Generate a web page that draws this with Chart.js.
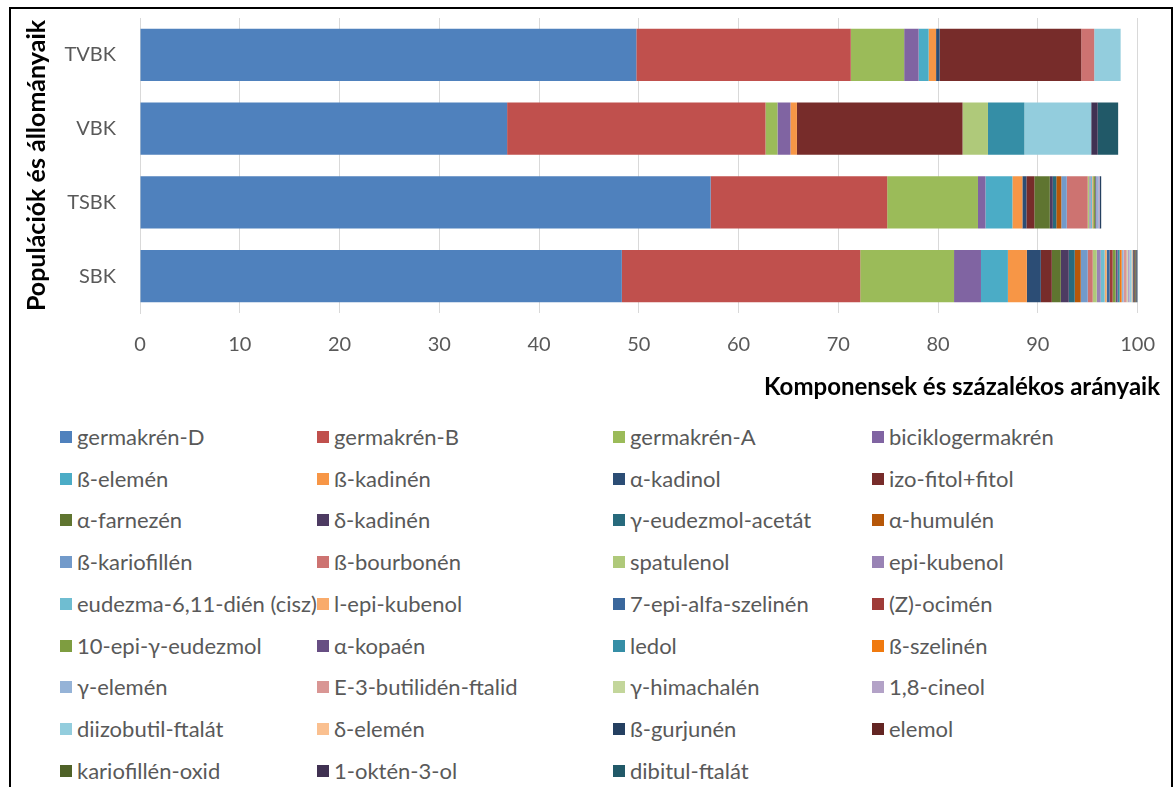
<!DOCTYPE html>
<html>
<head>
<meta charset="utf-8">
<script src="https://cdn.jsdelivr.net/npm/chart.js@4.4.1/dist/chart.umd.min.js"></script>
<style>
  body { margin: 0; background: #fff; font-family: Lato, sans-serif; }
  #frame { position: absolute; left: 9px; top: 7px; width: 1160px; height: 800px; border: 2px solid #000; }
  #chart { position: absolute; left: 0; top: 0; }
  .box { position: absolute; width: 12px; height: 12px; }
  .lbl { position: absolute; font-size: 22px; line-height: 26px; color: #595959; white-space: nowrap; }
</style>
</head>
<body>
<div id="frame"></div>
<canvas id="chart" width="1175" height="410"></canvas>
<div id="legend"></div>
<script>
// populations, top to bottom
const populations = ["TVBK", "VBK", "TSBK", "SBK"];

const components = [
  "germakrén-D", "germakrén-B", "germakrén-A", "biciklogermakrén",
  "ß-elemén", "ß-kadinén", "α-kadinol", "izo-fitol+fitol",
  "α-farnezén", "δ-kadinén", "γ-eudezmol-acetát", "α-humulén",
  "ß-kariofillén", "ß-bourbonén", "spatulenol", "epi-kubenol",
  "eudezma-6,11-dién (cisz)", "l-epi-kubenol", "7-epi-alfa-szelinén", "(Z)-ocimén",
  "10-epi-γ-eudezmol", "α-kopaén", "ledol", "ß-szelinén",
  "γ-elemén", "E-3-butilidén-ftalid", "γ-himachalén", "1,8-cineol",
  "diizobutil-ftalát", "δ-elemén", "ß-gurjunén", "elemol",
  "kariofillén-oxid", "1-oktén-3-ol", "dibitul-ftalát"
];

const colors = [
  "#4F81BD", "#C0504D", "#9BBB59", "#8064A2",
  "#4BACC6", "#F79646", "#2C4D75", "#772C2A",
  "#5F7530", "#4D3B62", "#276A7C", "#B65708",
  "#729ACA", "#CD7371", "#AFC97A", "#9983B5",
  "#6FBDD1", "#F9AB6B", "#3A679C", "#9F3B38",
  "#7E9D40", "#674E83", "#358EA6", "#F07A0F",
  "#95B3D7", "#D99694", "#C3D69B", "#B3A2C7",
  "#93CDDD", "#FAC090", "#254061", "#632523",
  "#4F6228", "#403152", "#215968"
];

// percentage of each component, same order as components
const tvbk = [49.75, 21.5, 5.35, 1.45, 1.0, 0.75, 0.35, 14.2,
  0, 0, 0, 0, 0, 1.3, 0, 0, 0, 0, 0, 0, 0, 0, 0, 0,
  0, 0, 0, 0, 2.65, 0, 0, 0, 0, 0, 0];
const vbk = [36.8, 25.9, 1.2, 1.3, 0, 0.65, 0, 16.6,
  0, 0, 0, 0, 0, 0, 2.55, 0, 0, 0, 0, 0, 0, 0, 3.65, 0,
  0, 0, 0, 0, 6.7, 0, 0, 0, 0, 0.65, 2.05];
const tsbk = [57.2, 17.7, 9.1, 0.75, 2.7, 1.0, 0.4, 0.8,
  1.55, 0.3, 0.35, 0.5, 0.55, 2.1, 0.15, 0.15, 0.15, 0.1, 0, 0, 0.2, 0.1, 0, 0,
  0.2, 0, 0, 0.15, 0, 0, 0.15, 0, 0, 0, 0];
const sbk = [48.3, 23.9, 9.4, 2.7, 2.7, 1.9, 1.4, 1.1,
  0.9, 0.8, 0.6, 0.6, 0.7, 0.5, 0.4, 0.4, 0.4, 0.2, 0.3, 0.3, 0.3, 0.2, 0.2, 0.2,
  0.2, 0.3, 0.1, 0.2, 0.2, 0.1, 0.1, 0.1, 0.1, 0.1, 0.1];

const xTicks = [0, 10, 20, 30, 40, 50, 60, 70, 80, 90, 100];
const xTitle = "Komponensek és százalékos arányaik";

const rows = [tvbk, vbk, tsbk, sbk];
const datasets = components.map((name, i) => ({
  label: name,
  data: rows.map(r => r[i]),
  backgroundColor: colors[i],
  borderWidth: 0,
  barPercentage: 0.71,
  categoryPercentage: 1
}));

// x title sits right of the plot's edge in the original
const xTitlePlugin = {
  id: "xTitle",
  afterDraw(c) {
    const g = c.ctx;
    g.save();
    g.font = "bold 24px Lato";
    g.fillStyle = "#000";
    g.textAlign = "right";
    g.textBaseline = "middle";
    g.fillText(xTitle, 1160, 387);
    g.restore();
  }
};

const ctx = document.getElementById("chart").getContext("2d");
const chart = new Chart(ctx, {
  type: "bar",
  data: { labels: populations, datasets: datasets },
  plugins: [xTitlePlugin],
  options: {
    indexAxis: "y",
    responsive: false,
    animation: false,
    layout: { padding: { left: 22, top: 18, right: 35, bottom: 0 } },
    plugins: { legend: { display: false }, tooltip: { enabled: false } },
    scales: {
      x: {
        stacked: true,
        min: 0,
        max: 100,
        afterBuildTicks: s => { s.ticks = xTicks.map(v => ({ value: v })); },
        afterFit: s => { s.height = 410 - 313; },
        ticks: { color: "#595959", font: { family: "Lato", size: 20 }, padding: 20 },
        grid: { color: "#D9D9D9", drawTicks: false },
        border: { display: false }
      },
      y: {
        stacked: true,
        afterFit: s => { s.width = 118; s.paddingTop = 0; s.paddingBottom = 0; },
        ticks: { color: "#595959", font: { family: "Lato", size: 20 }, padding: 16 },
        grid: { display: false },
        border: { color: "#D9D9D9" },
        title: {
          display: true,
          text: "Populációk és állományaik",
          color: "#000",
          font: { family: "Lato", size: 25, weight: "bold" },
          padding: { top: 0, bottom: 0 }
        }
      }
    }
  }
});

// legend in four columns, like the original
const colBox = [60, 317, 613, 872];
const legend = document.getElementById("legend");
chart.data.datasets.forEach((ds, i) => {
  const row = Math.floor(i / 4), col = i % 4;
  const y = 437 + row * 41.7;
  const box = document.createElement("div");
  box.className = "box";
  box.style.left = colBox[col] + "px";
  box.style.top = (y - 6) + "px";
  box.style.background = ds.backgroundColor;
  legend.appendChild(box);
  const lbl = document.createElement("div");
  lbl.className = "lbl";
  lbl.style.left = (colBox[col] + 17) + "px";
  lbl.style.top = (y - 13) + "px";
  lbl.textContent = ds.label;
  legend.appendChild(lbl);
});
</script>
</body>
</html>
